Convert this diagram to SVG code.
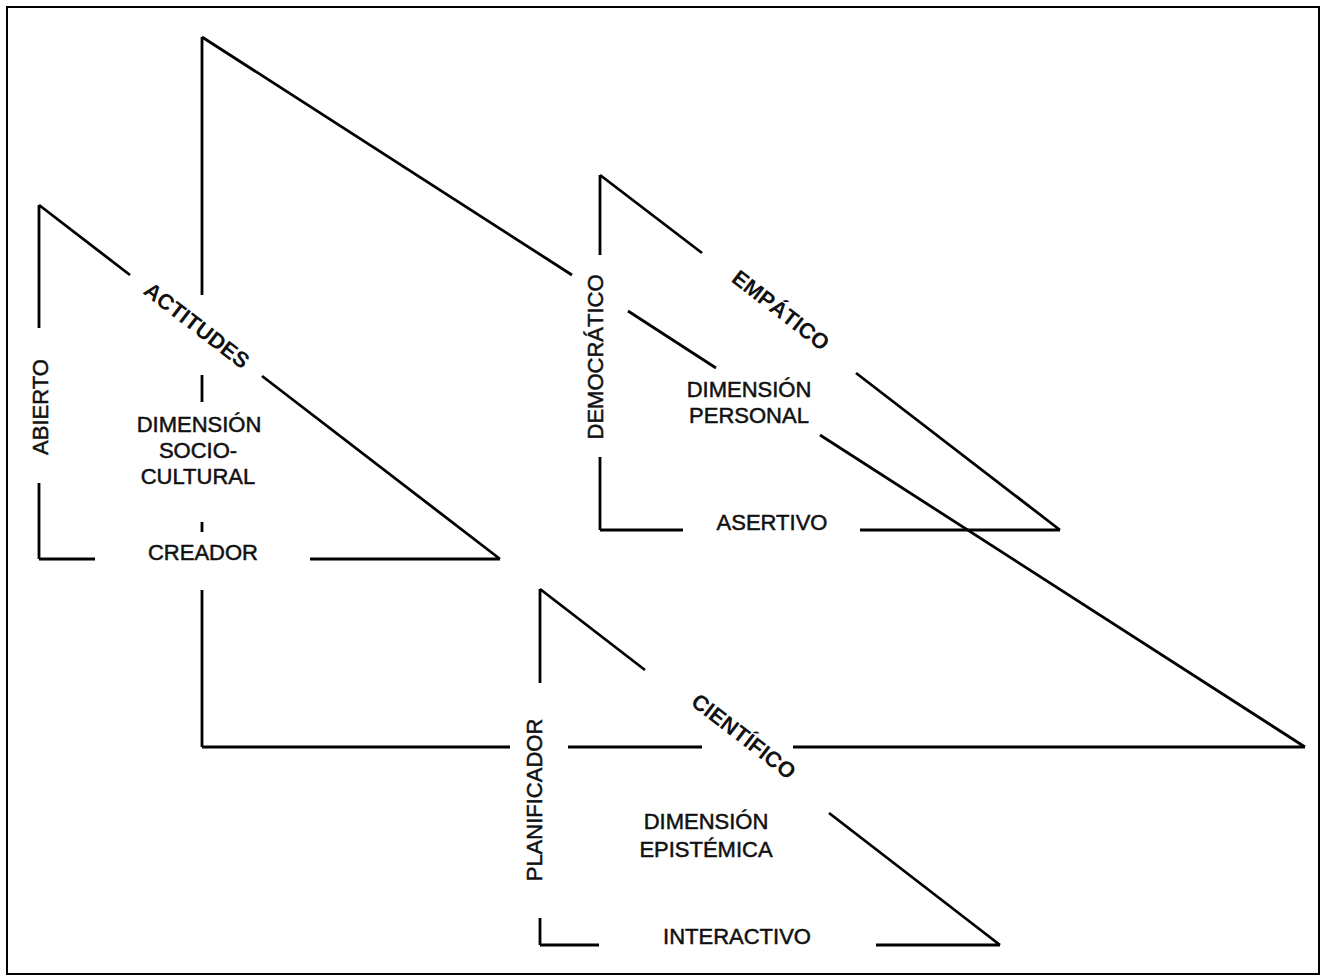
<svg xmlns="http://www.w3.org/2000/svg" width="1325" height="977" viewBox="0 0 1325 977">
<style>
.ln{stroke:#000;stroke-width:2.8;fill:none;stroke-linecap:butt}
.t{font-family:"Liberation Sans",Arial,sans-serif;font-size:22px;fill:#111;stroke:#111;stroke-width:0.5;text-anchor:middle}
.d{font-weight:bold;stroke-width:0}
</style>
<rect x="0" y="0" width="1325" height="977" fill="#fff"/>
<rect x="7" y="7" width="1312" height="967" fill="none" stroke="#000" stroke-width="2"/>
<g id="socio-cultural-large">
<path class="ln" d="M202,37 L572,275 M628,311 L716,368 M820,435 L1305,747 M202,37 V295 M202,375 V402 M202,522 V532 M202,590 V747 M202,747 H510 M568,747 H702 M793,747 H1305"/>
</g>
<g id="socio-cultural">
<path class="ln" d="M39,205 L130,275 M262,376 L500,559 M39,205 V328 M39,483 V559 M39,559 H95 M310,559 H500"/>
<text class="t" transform="translate(48,407) rotate(-90)">ABIERTO</text>
<text class="t d" transform="translate(197,325) rotate(37.5)" y="8">ACTITUDES</text>
<text class="t" x="199" y="432">DIMENSIÓN</text>
<text class="t" x="198" y="458">SOCIO-</text>
<text class="t" x="198" y="484">CULTURAL</text>
<text class="t" x="203" y="560">CREADOR</text>
</g>
<g id="personal">
<path class="ln" d="M600,175 L702,253 M856,373 L1060,530 M600,175 V255 M600,457 V530 M600,530 H683 M860,530 H1060"/>
<text class="t" transform="translate(603,357) rotate(-90)">DEMOCRÁTICO</text>
<text class="t d" transform="translate(781,310) rotate(37.7)" y="8">EMPÁTICO</text>
<text class="t" x="749" y="397">DIMENSIÓN</text>
<text class="t" x="749" y="423">PERSONAL</text>
<text class="t" x="772" y="530">ASERTIVO</text>
</g>
<g id="epistemica">
<path class="ln" d="M540,589 L645,670 M829,813 L1000,945 M540,589 V683 M540,918 V945 M540,945 H599 M876,945 H1000"/>
<text class="t" transform="translate(542,800) rotate(-90)">PLANIFICADOR</text>
<text class="t d" transform="translate(744,736) rotate(37.7)" y="8">CIENTÍFICO</text>
<text class="t" x="706" y="829">DIMENSIÓN</text>
<text class="t" x="706" y="857">EPISTÉMICA</text>
<text class="t" x="737" y="944">INTERACTIVO</text>
</g>
</svg>
